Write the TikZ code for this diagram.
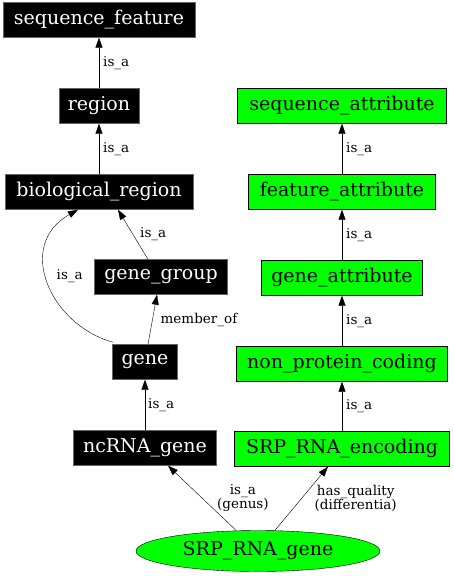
\documentclass[tikz,border=0pt]{standalone}
\usepackage{fontspec}
\setmainfont{DejaVu Serif}
\usetikzlibrary{arrows.meta,shapes.geometric}
\begin{document}
\begin{tikzpicture}[
    x=1pt, y=-1pt,
    blk/.style = {draw=black!60, fill=black, text=white, inner xsep=8pt,
                  minimum height=35pt, font=\fontsize{19}{21}\selectfont},
    grn/.style = {draw=black, fill=green, inner xsep=8pt,
                  minimum height=35pt, font=\fontsize{19}{21}\selectfont},
    lbl/.style = {font=\fontsize{13.5}{14.5}\selectfont, inner sep=2pt, align=center, text=black},
    rel/.style = {-{Triangle[length=10pt,width=7pt]}, black},
  ]
    \useasboundingbox (0,0) rectangle (453,576);

    \node[blk, minimum width=192pt] (seqf)  at (99,20)   {sequence\_feature};
    \node[blk, minimum width=80pt]  (reg)   at (99,106)  {region};
    \node[blk, minimum width=188pt] (bio)   at (99,192)  {biological\_region};
    \node[blk, minimum width=133pt] (grp)   at (161,277) {gene\_group};
    \node[blk, minimum width=65pt]  (gene)  at (145,362) {gene};
    \node[blk, minimum width=143pt] (ncrna) at (145,448) {ncRNA\_gene};

    \node[grn, minimum width=209pt] (seqa)  at (342,106) {sequence\_attribute};
    \node[grn, minimum width=187pt] (feata) at (342,192) {feature\_attribute};
    \node[grn, minimum width=161pt] (genea) at (342,278) {gene\_attribute};
    \node[grn, minimum width=211pt] (npc)   at (342,364) {non\_protein\_coding};
    \node[grn, minimum width=215pt] (srpe)  at (342,449) {SRP\_RNA\_encoding};
    \node[ellipse, draw=black, fill=green, minimum width=244pt, minimum height=41pt,
          inner sep=0pt, font=\fontsize{19}{21}\selectfont] (srpg) at (258,551) {SRP\_RNA\_gene};

    \draw[rel] (reg)  -- node[lbl, right, xshift=2pt] {is\_a} (seqf);
    \draw[rel] (bio)  -- node[lbl, right, xshift=2pt] {is\_a} (reg);
    \draw[rel] ([xshift=-13pt]grp.north) -- node[lbl, right, xshift=5pt] {is\_a} ([xshift=19pt]bio.south);
    \draw[rel] ([xshift=1pt,yshift=2pt]gene.north west) .. controls (50,325) and (15,245)
               .. node[lbl, right, pos=0.54, xshift=8pt] {is\_a} ([xshift=-21pt]bio.south);
    \draw[rel] ([xshift=3pt]gene.north) -- node[lbl, right, xshift=6pt] {member\_of} ([xshift=-4pt]grp.south);
    \draw[rel] (ncrna) -- node[lbl, right, xshift=1pt] {is\_a} (gene);

    \draw[rel] (feata) -- node[lbl, right, xshift=2pt] {is\_a} (seqa);
    \draw[rel] (genea) -- node[lbl, right, xshift=2pt] {is\_a} (feata);
    \draw[rel] (npc)   -- node[lbl, right, xshift=2pt] {is\_a} (genea);
    \draw[rel] (srpe)  -- node[lbl, right, xshift=2pt] {is\_a} (npc);

    \draw[rel] (srpg.north -| 236,0) -- node[lbl, right, xshift=13pt] {is\_a\\(genus)} ([xshift=23pt]ncrna.south);
    \draw[rel] (srpg.north -| 275,0) -- node[lbl, right, xshift=11pt] {has\_quality\\(differentia)} ([xshift=-14pt]srpe.south);
\end{tikzpicture}
\end{document}
